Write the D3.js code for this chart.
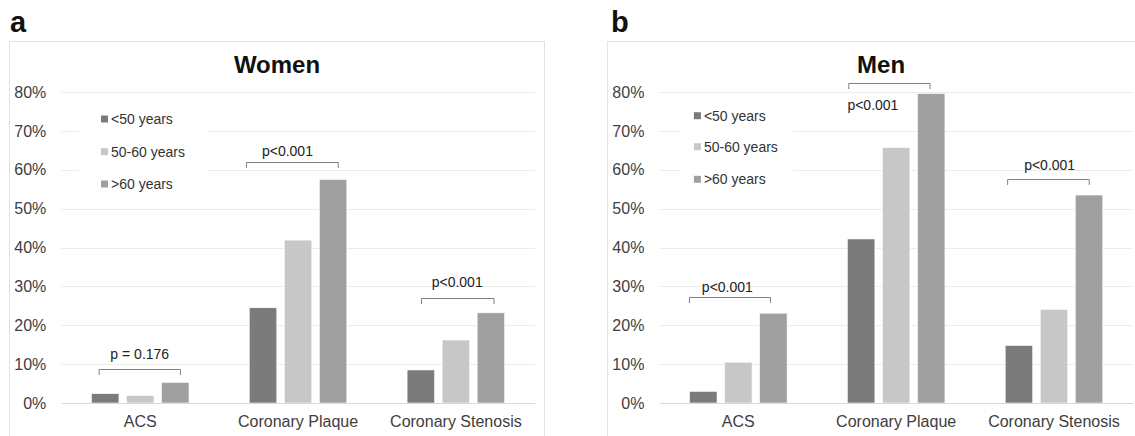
<!DOCTYPE html>
<html><head><meta charset="utf-8">
<script src="https://cdn.jsdelivr.net/npm/d3@7"></script>
<style>
html,body{margin:0;padding:0;background:#fff;}
svg{display:block;font-family:"Liberation Sans",Arial,sans-serif;}
</style></head>
<body>
<svg id="chart" width="1135" height="436"></svg>
<script>
// ---- data ----
const categories = ["ACS", "Coronary Plaque", "Coronary Stenosis"];
const ageGroups = ["<50 years", "50-60 years", ">60 years"];
const yTicks = [0, 10, 20, 30, 40, 50, 60, 70, 80];

const womenLt50 = [2.4, 24.5, 8.5];
const women5060 = [1.9, 41.9, 16.2];
const womenGt60 = [5.3, 57.5, 23.2];

const menLt50 = [3.0, 42.2, 14.8];
const men5060 = [10.5, 65.7, 24.1];
const menGt60 = [23.1, 79.6, 53.5];

const womenPLabels = ["p = 0.176", "p<0.001", "p<0.001"];
const menPLabels = ["p<0.001", "p<0.001", "p<0.001"];

// annotation placement (in data units: percent & bar-step units)
const womenBracketLevel = [8.7, 61.9, 26.9];
const womenLabelLevel = [12.6, 64.9, 31.1];
const womenBracketFrom = [0.22, -0.08, 0.41];
const womenBracketTo = [2.54, 2.54, 2.48];
const womenLabelAt = [1.38, 1.09, 1.43];

const menBracketLevel = [27.3, 82.2, 57.5];
const menLabelLevel = [29.9, 76.6, 61.3];
const menBracketFrom = [0.0, 0.04, 0.07];
const menBracketTo = [2.31, 2.36, 2.40];
const menLabelAt = [1.08, 0.73, 1.27];

const colors = ["#7b7b7b", "#c6c7c6", "#a0a0a0"];

const svg = d3.select("#chart");

function panel(cfg) {
  const g = svg.append("g").attr("transform", `translate(${cfg.dx},0)`);
  // frame
  g.append("rect").attr("x", 9.5).attr("y", 41.5).attr("width", 535).attr("height", 420)
    .attr("fill", "none").attr("stroke", "#e2e2e2").attr("stroke-width", 1);
  // panel letter
  g.append("text").attr("x", cfg.letterX).attr("y", 32).attr("font-size", 29).attr("font-weight", "bold")
    .attr("fill", "#111").text(cfg.letter);
  const x = d3.scaleBand().domain(categories).range([61.3, 534.8]).paddingInner(0).paddingOuter(0);
  const x1 = d3.scaleBand().domain(ageGroups).range([0, x.bandwidth()]).paddingInner(0.214).paddingOuter(0.86);
  const y = d3.scaleLinear().domain([0, 80]).range([403, 92]);
  const [r0, r1] = x.range();

  // title
  g.append("text").attr("x", cfg.titleX).attr("y", 72.5).attr("text-anchor", "middle")
    .attr("font-size", 24).attr("font-weight", "bold").attr("fill", "#111").text(cfg.title);

  // gridlines
  g.append("g").selectAll("line").data(yTicks.filter(d => d > 0)).join("line")
    .attr("x1", r0).attr("x2", r1).attr("y1", d => Math.round(y(d)) + 0.5).attr("y2", d => Math.round(y(d)) + 0.5)
    .attr("stroke", "#ececec").attr("stroke-width", 1);

  // y axis labels
  const yAxis = d3.axisLeft(y).tickValues(yTicks).tickFormat(d => d + "%").tickSize(0).tickPadding(15);
  const ya = g.append("g").attr("transform", `translate(${r0},0)`).call(yAxis);
  ya.select(".domain").remove();
  ya.selectAll("text").attr("font-size", 16).attr("fill", "#404040").attr("font-family", "Liberation Sans, Arial, sans-serif");

  // legend background (masks gridlines)
  const lg = g.append("g");
  lg.append("rect").attr("x", cfg.legendBg[0]).attr("y", 101).attr("width", cfg.legendBg[1] - cfg.legendBg[0])
    .attr("height", 98).attr("fill", "#fff");
  ageGroups.forEach((a, i) => {
    const cy = cfg.legendY[i];
    lg.append("rect").attr("x", cfg.legendX).attr("y", cy - 3.5).attr("width", 7).attr("height", 7).attr("fill", colors[i]);
    lg.append("text").attr("x", cfg.legendX + 10).attr("y", cy).attr("dy", "0.35em").attr("font-size", 14)
      .attr("fill", "#333").text(a);
  });

  // bars
  const series = cfg.series;
  const groups = g.append("g").selectAll("g").data(categories).join("g")
    .attr("transform", d => `translate(${x(d)},0)`);
  groups.selectAll("rect").data((c, ci) => ageGroups.map((a, si) => ({ a, v: series[si][ci], si })))
    .join("rect")
    .attr("x", d => x1(d.a)).attr("width", x1.bandwidth())
    .attr("y", d => y(d.v)).attr("height", d => y(0) - y(d.v))
    .attr("fill", d => colors[d.si]).attr("stroke", "#fff").attr("stroke-width", 0.6);

  // x axis
  const xAxis = d3.axisBottom(x).tickSize(0).tickPadding(13);
  const xa = g.append("g").attr("transform", `translate(0,${y(0)})`).call(xAxis);
  xa.select(".domain").attr("stroke", "#d9d9d9");
  xa.selectAll("text").attr("font-size", 16).attr("fill", "#404040").attr("font-family", "Liberation Sans, Arial, sans-serif");

  // brackets
  const step = x1.step();
  categories.forEach((c, i) => {
    const g0 = x(c) + x1(ageGroups[0]);
    const xa_ = g0 + cfg.bFrom[i] * step, xb = g0 + cfg.bTo[i] * step;
    const yb = Math.round(y(cfg.bLevel[i])) + 0.5;
    g.append("path").attr("d", `M${xa_},${yb + 5.5}V${yb}H${xb}V${yb + 5.5}`)
      .attr("fill", "none").attr("stroke", "#808080").attr("stroke-width", 1);
    g.append("text").attr("x", g0 + cfg.lAt[i] * step).attr("y", y(cfg.lLevel[i])).attr("dy", "0.35em")
      .attr("text-anchor", "middle").attr("font-size", 14).attr("fill", "#222").text(cfg.labels[i]);
  });
}

panel({
  dx: 0, letter: "a", letterX: 10, title: "Women", titleX: 277,
  series: [womenLt50, women5060, womenGt60],
  legendX: 101, legendY: [119, 151.7, 184], legendBg: [79, 207],
  bLevel: womenBracketLevel, lLevel: womenLabelLevel, bFrom: womenBracketFrom, bTo: womenBracketTo,
  lAt: womenLabelAt, labels: womenPLabels
});
panel({
  dx: 598.1, letter: "b", letterX: 13, title: "Men", titleX: 283,
  series: [menLt50, men5060, menGt60],
  legendX: 95.8, legendY: [115.7, 146.7, 179.3], legendBg: [82, 195],
  bLevel: menBracketLevel, lLevel: menLabelLevel, bFrom: menBracketFrom, bTo: menBracketTo,
  lAt: menLabelAt, labels: menPLabels
});
</script>
</body></html>
